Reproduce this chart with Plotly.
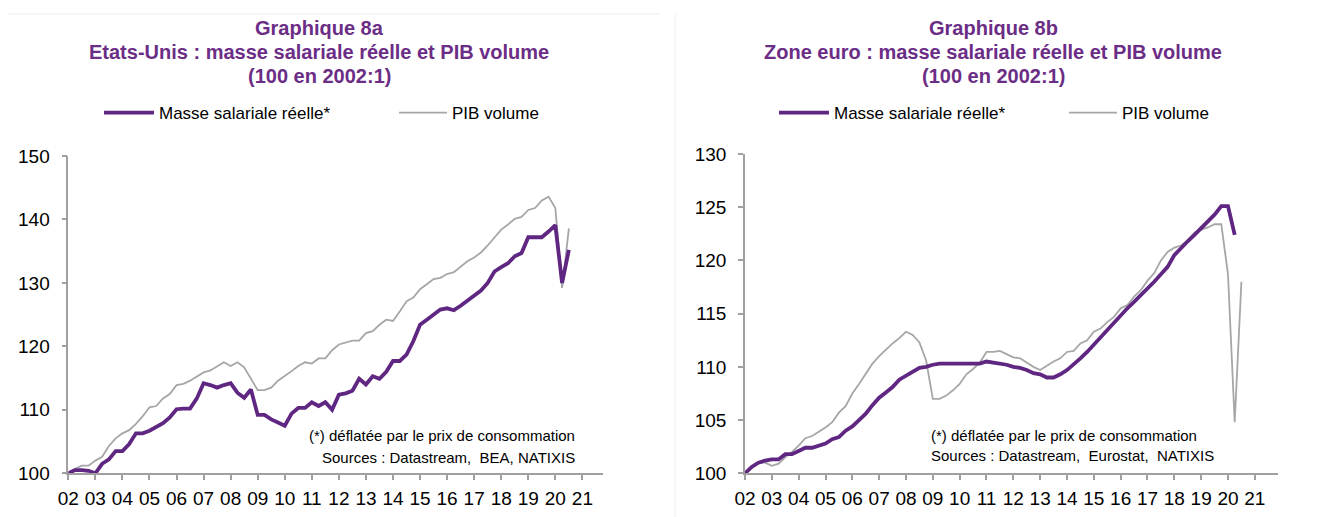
import plotly.graph_objects as go

# Trimestres 2002:1 -> 2020:3
annees = list(range(2002, 2022))
etiquettes_x = ["%02d" % (a % 100) for a in annees]

# Graphique 8a : Etats-Unis
us_masse = [
    100.0, 100.5, 100.5, 100.4,
    100.0, 101.5, 102.2, 103.5,
    103.5, 104.6, 106.3, 106.3,
    106.7, 107.3, 107.9, 108.8,
    110.1, 110.2, 110.2, 111.8,
    114.2, 113.9, 113.5, 113.9,
    114.2, 112.7, 111.9, 113.2,
    109.2, 109.2, 108.5, 108.0,
    107.5, 109.4, 110.3, 110.3,
    111.2, 110.6, 111.2, 110.0,
    112.4, 112.6, 113.0, 114.9,
    114.0, 115.3, 114.9, 116.0,
    117.7, 117.7, 118.7, 120.8,
    123.4, 124.2, 125.0, 125.8,
    126.0, 125.7, 126.4, 127.2,
    127.9, 128.8, 130.0, 131.8,
    132.5, 133.1, 134.2, 134.7,
    137.2, 137.2, 137.2, 138.1,
    139.1, 130.0, 135.2,
]
us_pib = [
    100.0, 100.7, 101.2, 101.2,
    102.0, 102.6, 104.3, 105.5,
    106.3, 106.8, 107.8, 109.0,
    110.4, 110.6, 111.8, 112.5,
    113.9, 114.1, 114.6, 115.3,
    115.9, 116.2, 116.9, 117.5,
    116.9, 117.5, 116.7, 114.8,
    113.1, 113.1, 113.5, 114.6,
    115.3, 116.1, 116.9, 117.5,
    117.3, 118.1, 118.1, 119.4,
    120.3, 120.6, 120.9, 120.9,
    122.1, 122.4, 123.4, 124.2,
    124.0, 125.5, 127.1, 127.7,
    129.0, 129.8, 130.6, 130.8,
    131.4, 131.7, 132.6, 133.4,
    134.0, 134.8, 135.9, 137.1,
    138.4, 139.2, 140.1, 140.4,
    141.5, 141.8, 143.0, 143.6,
    141.8, 129.2, 138.6,
]

# Graphique 8b : Zone euro
ze_masse = [
    100.0, 100.6, 101.0, 101.2,
    101.3, 101.3, 101.8, 101.8,
    102.1, 102.4, 102.4, 102.6,
    102.8, 103.2, 103.4, 104.0,
    104.4, 105.0, 105.6, 106.4,
    107.1, 107.6, 108.1, 108.8,
    109.2, 109.5, 109.9, 110.0,
    110.2, 110.3, 110.3, 110.3,
    110.3, 110.3, 110.3, 110.3,
    110.5, 110.4, 110.3, 110.2,
    110.0, 109.9, 109.7, 109.4,
    109.3, 109.0, 109.0, 109.3,
    109.7, 110.2, 110.8, 111.4,
    112.1, 112.8, 113.5, 114.1,
    114.8, 115.5, 116.1, 116.7,
    117.4, 118.0, 118.7, 119.4,
    120.5, 121.2, 121.8, 122.4,
    123.0, 123.6, 124.3, 125.1,
    125.1, 122.4,
]
ze_pib = [
    100.0, 100.6, 101.0, 101.0,
    100.7, 100.9, 101.5, 102.0,
    102.6, 103.3, 103.5, 103.9,
    104.3, 104.8, 105.7, 106.3,
    107.5, 108.4, 109.3, 110.3,
    111.0, 111.6, 112.2, 112.7,
    113.3, 113.0, 112.3, 110.6,
    107.0, 107.0, 107.3, 107.8,
    108.4, 109.3, 109.8, 110.4,
    111.4, 111.4, 111.5, 111.2,
    110.9, 110.8, 110.4, 110.0,
    109.7, 110.1, 110.5, 110.8,
    111.4, 111.5, 112.2, 112.5,
    113.3, 113.6, 114.2, 114.7,
    115.5, 115.8, 116.6, 117.2,
    118.1, 118.8, 120.0, 120.8,
    121.2, 121.4, 121.9, 122.6,
    122.9, 123.1, 123.4, 123.4,
    118.7, 104.8, 118.0,
]


def trimestres(n):
    # 2002:1, 2002:2, ... en annee decimale
    return [2002 + i / 4 for i in range(n)]


VIOLET = "#5f2682"
GRIS = "#a6a6a6"
TITRE = "#6b2d86"
AXE = "#a0a0a0"
W, H = 1332, 517
DECALAGE = 8  # marge par defaut du <body> de la page


def px_x(v):
    return (v - DECALAGE) / W


def px_y(v):
    return 1 - (v - DECALAGE) / H


fig = go.Figure()

fig.add_trace(go.Scatter(x=trimestres(len(us_pib)), y=us_pib, name="PIB volume",
                         mode="lines", line=dict(color=GRIS, width=1.8),
                         xaxis="x", yaxis="y", legend="legend2"))
fig.add_trace(go.Scatter(x=trimestres(len(us_masse)), y=us_masse, name="Masse salariale réelle*",
                         mode="lines", line=dict(color=VIOLET, width=3.8),
                         xaxis="x", yaxis="y", legend="legend"))
fig.add_trace(go.Scatter(x=trimestres(len(ze_pib)), y=ze_pib, name="PIB volume",
                         mode="lines", line=dict(color=GRIS, width=1.8),
                         xaxis="x2", yaxis="y3", legend="legend4"))
fig.add_trace(go.Scatter(x=trimestres(len(ze_masse)), y=ze_masse, name="Masse salariale réelle*",
                         mode="lines", line=dict(color=VIOLET, width=3.8),
                         xaxis="x2", yaxis="y3", legend="legend3"))

police = "Liberation Sans, Arial, sans-serif"
axe_x = dict(tickvals=annees, ticktext=etiquettes_x, ticks="outside", ticklen=5,
             tickcolor=AXE, tickwidth=1.5, showline=True, linecolor=AXE, linewidth=1.5,
             showgrid=False, zeroline=False, tickfont=dict(size=19, color="black"),
             tickangle=0, ticklabelstandoff=2, fixedrange=True)
axe_y = dict(ticks="outside", ticklen=5, tickcolor=AXE, tickwidth=1.5, showline=True,
             linecolor=AXE, linewidth=1.5, showgrid=False, zeroline=False,
             tickfont=dict(size=19, color="black"), ticklabelstandoff=8)


def legende(x_px, largeur):
    return dict(orientation="h", x=px_x(x_px), y=px_y(113), xanchor="left", yanchor="middle",
                font=dict(size=17), itemwidth=largeur, bgcolor="rgba(0,0,0,0)")


bas = px_y(473.3)
fig.update_layout(
    width=W, height=H, autosize=False,
    margin=dict(l=0, r=0, t=0, b=0, autoexpand=False),
    showlegend=True,
    paper_bgcolor="white", plot_bgcolor="white",
    font=dict(family=police, color="black"),
    xaxis=dict(axe_x, domain=[px_x(68.3), px_x(602.7)], range=[2002, 2021.75], anchor="y"),
    yaxis=dict(axe_y, domain=[bas, px_y(156)], range=[100, 150], dtick=10, anchor="x"),
    yaxis2=dict(axe_y, overlaying="y", side="right", range=[100, 150], dtick=10, anchor="x"),
    xaxis2=dict(axe_x, domain=[px_x(745), px_x(1278.3)], range=[2002, 2021.875], anchor="y3"),
    yaxis3=dict(axe_y, domain=[bas, px_y(154)], range=[100, 130], dtick=5, anchor="x2"),
    yaxis4=dict(axe_y, overlaying="y3", side="right", range=[100, 130], dtick=5, anchor="x2"),
    legend=legende(99, 50),
    legend2=legende(394, 48),
    legend3=legende(774, 50),
    legend4=legende(1064, 48),
)

titres = [
    (319, ["Graphique 8a", "Etats-Unis : masse salariale réelle et PIB volume", "(100 en 2002:1)"]),
    (993, ["Graphique 8b", "Zone euro : masse salariale réelle et PIB volume", "(100 en 2002:1)"]),
]
for cx, lignes in titres:
    for k, txt in enumerate(lignes):
        fig.add_annotation(text="<b>%s</b>" % txt, x=px_x(cx), y=px_y(28 + 24 * k),
                           xref="paper", yref="paper", xanchor="center", yanchor="middle",
                           showarrow=False, font=dict(size=20, color=TITRE))

notes = [
    (577, "right", 435, "(*) déflatée par le prix de consommation"),
    (577, "right", 457, "Sources : Datastream,  BEA, NATIXIS"),
    (929, "left", 435, "(*) déflatée par le prix de consommation"),
    (929, "left", 455, "Sources : Datastream,  Eurostat,  NATIXIS"),
]
for nx, ancre, ny, txt in notes:
    fig.add_annotation(text=txt, x=px_x(nx), y=px_y(ny), xref="paper", yref="paper",
                       xanchor=ancre, yanchor="middle", showarrow=False,
                       font=dict(size=15, color="black"))

# cadres tres clairs des deux panneaux
fig.add_shape(type="line", xref="paper", yref="paper", x0=px_x(8), x1=px_x(660),
              y0=px_y(14), y1=px_y(14), line=dict(color="#eeeeee", width=1))
fig.add_shape(type="line", xref="paper", yref="paper", x0=px_x(675), x1=px_x(675),
              y0=px_y(14), y1=0, line=dict(color="#eeeeee", width=1))

fig.write_html("out.html")
